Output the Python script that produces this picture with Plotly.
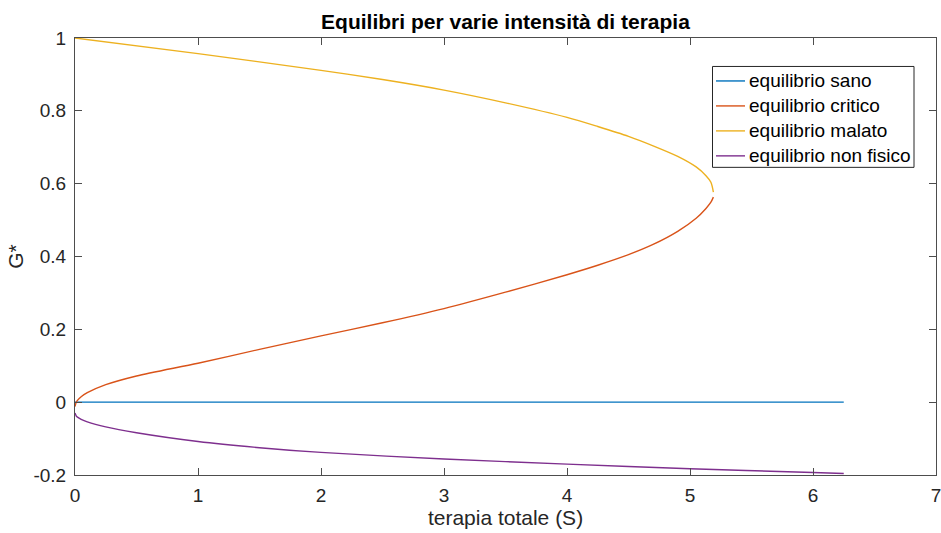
import plotly.graph_objects as go

# Equilibrium branches G* as a function of total therapy S
s_sano = [0.0, 6.25]
g_sano = [0.0, 0.0]

s_critico = [0.0, 0.01, 0.02, 0.05, 0.1, 0.25, 0.5, 1.0, 1.5, 2.0, 2.5, 3.0, 3.5, 4.0, 4.25, 4.5, 4.7, 4.9, 5.05, 5.13, 5.17, 5.19]
g_critico = [-0.012, 0.0, 0.005, 0.015, 0.026, 0.048, 0.072, 0.107, 0.145, 0.182, 0.218, 0.257, 0.302, 0.350, 0.376, 0.405, 0.433, 0.469, 0.505, 0.532, 0.549, 0.563]

s_malato = [0.0, 1.0, 2.0, 2.5, 3.0, 3.5, 4.0, 4.25, 4.5, 4.7, 4.9, 5.05, 5.13, 5.17, 5.19]
g_malato = [1.0, 0.957, 0.911, 0.886, 0.857, 0.822, 0.782, 0.757, 0.730, 0.704, 0.675, 0.646, 0.622, 0.604, 0.577]

s_nonfisico = [0.0, 0.01, 0.02, 0.05, 0.1, 0.25, 0.5, 1.0, 1.5, 2.0, 3.0, 4.0, 5.0, 6.0, 6.25]
g_nonfisico = [-0.03, -0.038, -0.041, -0.047, -0.054, -0.068, -0.084, -0.108, -0.125, -0.138, -0.156, -0.170, -0.183, -0.193, -0.196]

x_ticks = [0, 1, 2, 3, 4, 5, 6, 7]
y_ticks = [-0.2, 0, 0.2, 0.4, 0.6, 0.8, 1]
y_tick_text = ["-0.2", "0", "0.2", "0.4", "0.6", "0.8", "1"]

series = [
    ("equilibrio sano", s_sano, g_sano, "#0072BD"),
    ("equilibrio critico", s_critico, g_critico, "#D95319"),
    ("equilibrio malato", s_malato, g_malato, "#EDB120"),
    ("equilibrio non fisico", s_nonfisico, g_nonfisico, "#7E2F8E"),
]

W, H = 941, 533
M_L, M_R, M_T, M_B = 75, 5, 37.5, 58
PLOT_W, PLOT_H = W - M_L - M_R, H - M_T - M_B
axis_color = "#4d4d4d"
text_color = "#262626"
font_family = "Liberation Sans, Arial, sans-serif"

fig = go.Figure()
for name, xs, ys, color in series:
    fig.add_trace(go.Scatter(
        x=xs, y=ys, name=name, mode="lines", showlegend=False,
        line=dict(color=color, width=1.4, shape="spline", smoothing=0.8),
    ))

# Legend box placed in pixel units, converted to paper coordinates
def px(x):
    return (x - M_L) / PLOT_W

def py(y):
    return (H - M_B - y) / PLOT_H

box_l, box_r, box_t, box_b = 712.5, 914, 66, 167
row0, row_step = 80.5, 25
shapes = [dict(
    type="rect", xref="paper", yref="paper",
    x0=px(box_l), x1=px(box_r), y0=py(box_b), y1=py(box_t),
    line=dict(color=text_color, width=1), fillcolor="white", layer="above",
)]
annotations = []
for i, (name, _, _, color) in enumerate(series):
    yc = row0 + i * row_step
    shapes.append(dict(
        type="line", xref="paper", yref="paper",
        x0=px(716), x1=px(745), y0=py(yc), y1=py(yc),
        line=dict(color=color, width=1.4), layer="above",
    ))
    annotations.append(dict(
        text=name, xref="paper", yref="paper", x=px(746.5), y=py(yc),
        xanchor="left", yanchor="middle", showarrow=False,
        font=dict(size=19, color="black"),
    ))

fig.update_layout(
    width=W, height=H,
    margin=dict(l=M_L, r=M_R, t=M_T, b=M_B, autoexpand=False),
    paper_bgcolor="white", plot_bgcolor="white",
    font=dict(family=font_family, size=19, color=text_color),
    title=dict(
        text="<b>Equilibri per varie intensità di terapia</b>",
        x=0.5, xref="paper", xanchor="center",
        yref="container", y=1 - 22 / H, yanchor="middle",
        font=dict(size=21, color="black"),
    ),
    showlegend=False,
    shapes=shapes,
    annotations=annotations,
)

fig.update_xaxes(
    range=[0, 7], tickvals=x_ticks, ticktext=[str(t) for t in x_ticks],
    showgrid=False, zeroline=False, automargin=False,
    showline=True, linecolor=axis_color, linewidth=1, mirror="ticks",
    ticks="inside", ticklen=7, tickcolor=axis_color,
    tickfont=dict(size=19, color=text_color),
    ticklabelstandoff=3, ticklabeloverflow="allow",
    title=dict(text="terapia totale (S)", font=dict(size=21, color=text_color), standoff=4),
)
fig.update_yaxes(
    range=[-0.2, 1], tickvals=y_ticks, ticktext=y_tick_text,
    showgrid=False, zeroline=False, automargin=False,
    showline=True, linecolor=axis_color, linewidth=1, mirror="ticks",
    ticks="inside", ticklen=7, tickcolor=axis_color,
    tickfont=dict(size=19, color=text_color),
    ticklabelstandoff=4, ticklabeloverflow="allow",
    title=dict(text="G*", font=dict(size=21, color=text_color), standoff=4),
)

fig.write_html("out.html")
